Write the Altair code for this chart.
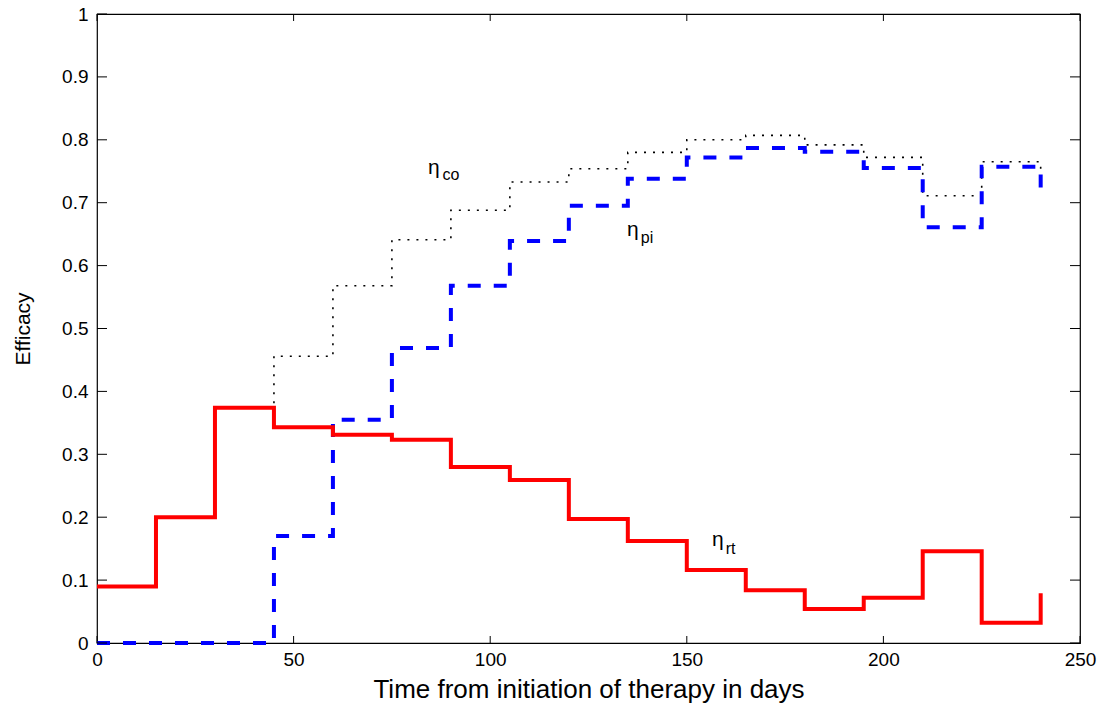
import altair as alt
import pandas as pd

# ---- data ----
days = [0, 15, 30, 45, 60, 75, 90, 105, 120, 135, 150, 165, 180, 195, 210, 225, 240]
eta_rt = [0.090, 0.200, 0.374, 0.343, 0.331, 0.323, 0.280, 0.259, 0.197, 0.162,
          0.116, 0.084, 0.054, 0.072, 0.146, 0.032, 0.079]
eta_pi = [0.000, 0.000, 0.000, 0.170, 0.355, 0.469, 0.568, 0.639, 0.695, 0.738,
          0.772, 0.787, 0.781, 0.755, 0.661, 0.757, 0.717]
eta_co = [0.090, 0.200, 0.374, 0.456, 0.568, 0.641, 0.688, 0.733, 0.754, 0.780,
          0.800, 0.807, 0.792, 0.772, 0.711, 0.765, 0.740]

x_ticks = [0, 50, 100, 150, 200, 250]
y_ticks = [0, 0.1, 0.2, 0.3, 0.4, 0.5, 0.6, 0.7, 0.8, 0.9, 1.0]

# annotation labels (main symbol + subscript), in data coordinates
lab_main = ["η", "η", "η"]
lab_sub = ["co", "pi", "rt"]
lab_x = [84.2, 134.8, 156.4]
lab_y = [0.746, 0.647, 0.154]
sub_x = [87.9, 138.3, 159.9]
sub_y = [0.736, 0.636, 0.1415]

W, H = 983, 629
FONT = "Liberation Sans"

xs = alt.Scale(domain=[0, 250], nice=False, zero=False)
ys = alt.Scale(domain=[0, 1], nice=False, zero=False)


def series(vals):
    return pd.DataFrame({"day": days, "v": vals})


x_enc = alt.X("day:Q", scale=xs,
              axis=alt.Axis(values=x_ticks, ticks=False, domain=False, grid=False,
                            labelFlush=False, labelOverlap=False,
                            labelFont=FONT, labelFontSize=19, labelColor="black",
                            labelPadding=7, title="Time from initiation of therapy in days",
                            titleFont=FONT, titleFontSize=26, titleFontWeight="normal",
                            titleColor="black", titlePadding=7))
y_enc = alt.Y("v:Q", scale=ys,
              axis=alt.Axis(values=y_ticks, ticks=False, domain=False, grid=False,
                            labelFlush=False, labelOverlap=False,
                            labelFont=FONT, labelFontSize=19, labelColor="black",
                            labelPadding=9, format="~g", title="Efficacy",
                            titleFont=FONT, titleFontSize=21, titleFontWeight="normal",
                            titleColor="black", titlePadding=28))

co_line = alt.Chart(series(eta_co)).mark_line(
    interpolate="step-after", color="black", strokeWidth=1.6, strokeDash=[2, 7]
).encode(x=x_enc, y=y_enc)

pi_line = alt.Chart(series(eta_pi)).mark_line(
    interpolate="step-after", color="#0000ff", strokeWidth=4, strokeDash=[13, 13],
    clip=False
).encode(x="day:Q", y="v:Q")

rt_line = alt.Chart(series(eta_rt)).mark_line(
    interpolate="step-after", color="#ff0000", strokeWidth=4
).encode(x="day:Q", y="v:Q")

labels = pd.DataFrame({"m": lab_main, "s": lab_sub, "x": lab_x, "y": lab_y,
                       "sx": sub_x, "sy": sub_y})
main_txt = alt.Chart(labels).mark_text(
    font=FONT, fontSize=21, align="left", baseline="alphabetic", color="black"
).encode(x=alt.X("x:Q", scale=xs), y=alt.Y("y:Q", scale=ys), text="m:N")
sub_txt = alt.Chart(labels).mark_text(
    font=FONT, fontSize=16, align="left", baseline="alphabetic", color="black"
).encode(x=alt.X("sx:Q", scale=xs), y=alt.Y("sy:Q", scale=ys), text="s:N")

xt = pd.DataFrame({"t": x_ticks})
yt = pd.DataFrame({"t": y_ticks})
bottom_ticks = alt.Chart(xt).mark_rule(color="black", strokeWidth=1).encode(
    x=alt.X("t:Q", scale=xs), y=alt.value(H), y2=alt.value(H - 7))
top_ticks = alt.Chart(xt).mark_rule(color="black", strokeWidth=1).encode(
    x=alt.X("t:Q", scale=xs), y=alt.value(0), y2=alt.value(7))
left_ticks = alt.Chart(yt).mark_rule(color="black", strokeWidth=1).encode(
    y=alt.Y("t:Q", scale=ys), x=alt.value(0), x2=alt.value(10))
right_ticks = alt.Chart(yt).mark_rule(color="black", strokeWidth=1).encode(
    y=alt.Y("t:Q", scale=ys), x=alt.value(W), x2=alt.value(W - 10))

chart = alt.layer(
    co_line, pi_line, rt_line, main_txt, sub_txt,
    bottom_ticks, top_ticks, left_ticks, right_ticks
).properties(
    width=W, height=H,
    autosize=alt.AutoSizeParams(type="none"),
    padding={"left": 97, "top": 14, "right": 28, "bottom": 65},
    background="white",
).configure_view(stroke="black", strokeWidth=1.2)

chart.save("out.html", embed_options={"renderer": "svg", "actions": False})
